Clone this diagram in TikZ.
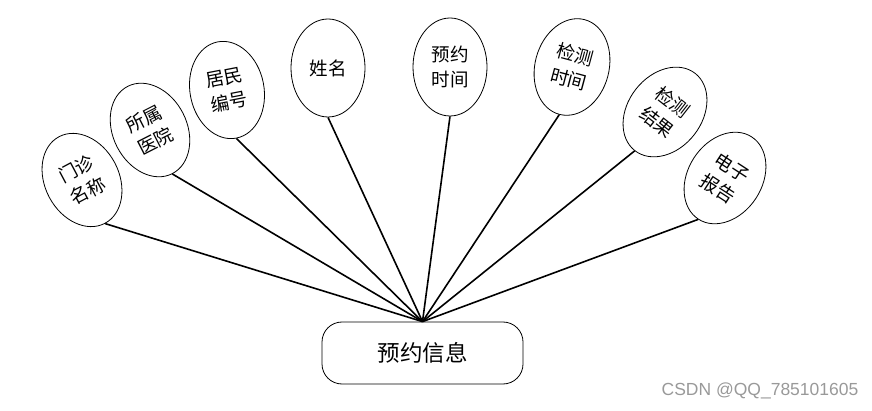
\documentclass[tikz,border=0pt]{standalone}
\usepackage{fontspec}
\newfontfamily\cjk{Noto Sans CJK SC}
\setsansfont{Liberation Sans}
\usepackage{tikz}
\usetikzlibrary{shapes.geometric}

\begin{document}
\begin{tikzpicture}[x=1pt,y=-1pt, attr/.style={draw,ellipse,line width=0.8pt,minimum width=74pt,minimum height=98pt,inner sep=0pt,align=center,font=\cjk\fontsize{18.5}{25}\selectfont}, entity/.style={draw,line width=0.8pt,rounded corners=20pt,minimum width=201pt,minimum height=62pt,font=\cjk\fontsize{22.5}{26}\selectfont}, link/.style={line width=1.6pt}]
\useasboundingbox (0,0) rectangle (872,411);
\node[entity] (yyxx) at (422.5,353) {预约信息};
\node[attr,rotate=28] (mzmc) at (82,180) {门诊\\名称};
\node[attr,rotate=27] (ssyy) at (150,130) {所属\\医院};
\node[attr,rotate=11] (jmbh) at (227,90) {居民\\编号};
\node[attr] (xm) at (328,68) {姓名};
\node[attr] (yysj) at (450,67) {预约\\时间};
\node[attr,rotate=-15] (jcsj) at (572,67) {检测\\时间};
\node[attr,rotate=-38] (jcjg) at (665,112) {检测\\结果};
\node[attr,rotate=-33] (dzbg) at (725,178) {电子\\报告};
\foreach \x in {mzmc,ssyy,jmbh,xm,yysj,jcsj,jcjg,dzbg}{\draw[link] (\x.south)--(yyxx.north);}
\node[text=gray!80,font=\sffamily\fontsize{17.5}{19}\selectfont] (csdn) at (760,391) {CSDN @QQ\_785101605};
\end{tikzpicture}
\end{document}
